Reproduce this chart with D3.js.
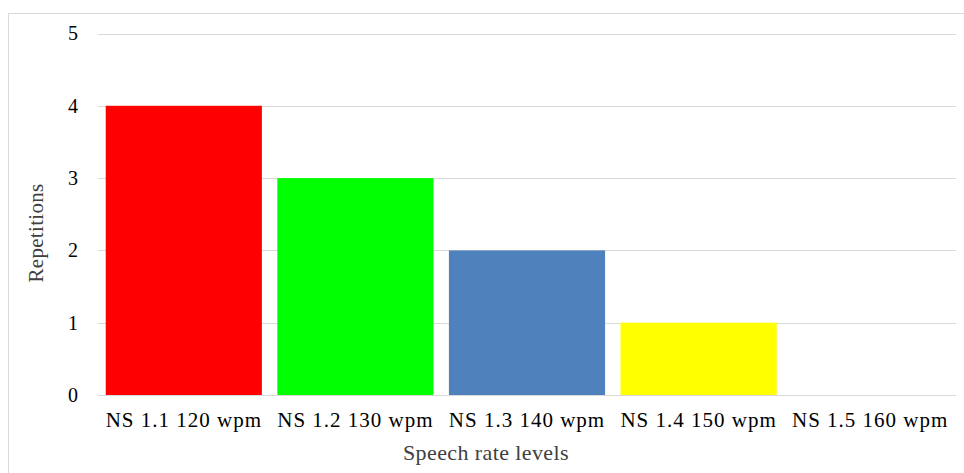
<!DOCTYPE html>
<html><head><meta charset="utf-8">
<script src="https://cdn.jsdelivr.net/npm/d3@7"></script>
<style>body{margin:0;background:#fff}svg{display:block}
text{font-family:'Liberation Serif','Times New Roman',serif}</style>
</head><body>
<svg id="c" width="964" height="473"></svg>
<script>
const categories = ["NS 1.1 120 wpm","NS 1.2 130 wpm","NS 1.3 140 wpm","NS 1.4 150 wpm","NS 1.5 160 wpm"];
const values = [4,3,2,1,0];
const colors = ["#FF0000","#00FF00","#4F81BD","#FFFF00","#FFC000"];
const yTicks = [0,1,2,3,4,5];

const svg = d3.select("#c");
const font = "'Liberation Serif','Times New Roman',serif";
svg.append("rect").attr("x",8.5).attr("y",13.5).attr("width",970).attr("height",480)
  .attr("fill","#fff").attr("stroke","#d9d9d9").attr("stroke-width",1);

const x = d3.scaleBand().domain(categories).range([98,956]).paddingInner(0.09).paddingOuter(0.045);
const y = d3.scaleLinear().domain([0,5]).range([395,33.5]);

const g = svg.append("g");
g.selectAll("line.grid").data(yTicks).join("line")
  .attr("x1",98).attr("x2",956)
  .attr("y1",d=>Math.round(y(d))+0.5).attr("y2",d=>Math.round(y(d))+0.5)
  .attr("stroke","#d9d9d9").attr("stroke-width",1);

g.selectAll("rect.bar").data(values).join("rect")
  .attr("x",(d,i)=>x(categories[i])).attr("width",x.bandwidth())
  .attr("y",d=>y(d)).attr("height",d=>y(0)-y(d))
  .attr("fill",(d,i)=>colors[i]);

const yAxis = d3.axisLeft(y).tickValues(yTicks).tickSize(0).tickPadding(0).tickFormat(d3.format("d"));
const ya = svg.append("g").attr("transform","translate(78,0)").call(yAxis);
ya.attr("font-family",null);
ya.select(".domain").remove();
ya.selectAll("text").style("font-family",font).style("font-size","20px").attr("fill","#000").attr("dy","0.32em");

const xAxis = d3.axisBottom(x).tickSize(0).tickPadding(0);
const xa = svg.append("g").attr("transform","translate(0,420)").call(xAxis);
xa.attr("font-family",null);
xa.select(".domain").remove();
xa.selectAll("text").style("font-family",font).style("font-size","21px").style("letter-spacing","1px")
  .attr("fill","#000").attr("dy","0.32em");

svg.append("text").attr("x",486).attr("y",460).attr("text-anchor","middle")
  .style("font-family",font).style("font-size","22px").style("letter-spacing","0.4px")
  .attr("fill","#404040").text("Speech rate levels");
svg.append("text").attr("transform","translate(43,233) rotate(-90)").attr("text-anchor","middle")
  .style("font-family",font).style("font-size","21px").style("letter-spacing","0.3px")
  .attr("fill","#404040").text("Repetitions");
</script>
</body></html>
